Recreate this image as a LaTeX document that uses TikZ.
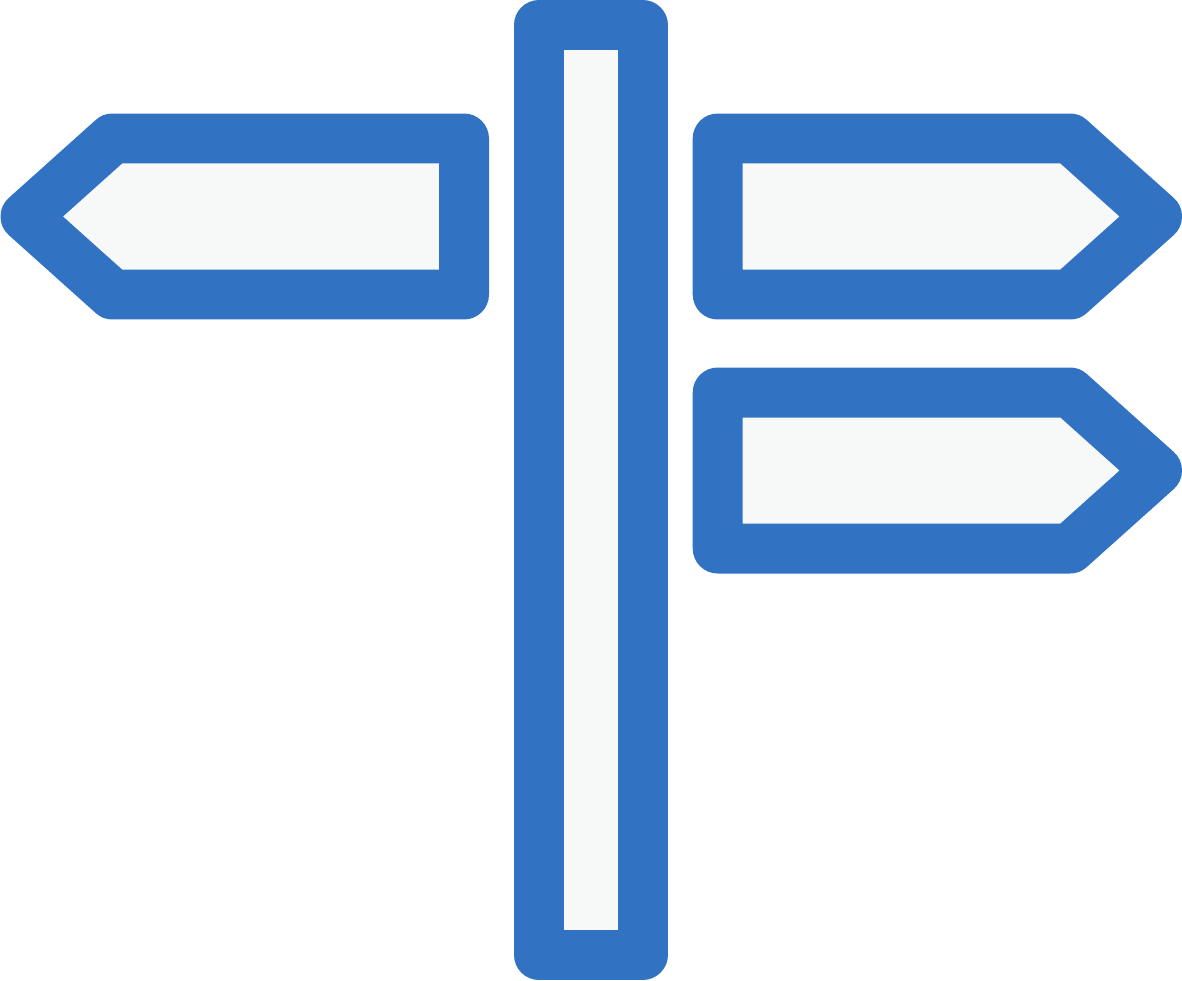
\documentclass[tikz,border=0pt]{standalone}
\usepackage{tikz}
\definecolor{signblue}{HTML}{3272C3}
\definecolor{signfill}{HTML}{F7F9F8}
\tikzset{signpart/.style={draw=signblue, fill=signfill, line width=1cm, line join=round}}
\begin{document}
\begin{tikzpicture}[x=0.02cm,y=-0.02cm]
\useasboundingbox (0,0) rectangle (1182,980);
% post
\draw[signpart] (539,25) -- (642.5,25) -- (642.5,955) -- (539,955) -- cycle;
% left sign
\draw[signpart] (464,138.5) -- (464,294.5) -- (112.5,294.5) -- (25.5,216.5) -- (112.5,138.5) -- cycle;
% right signs
\draw[signpart] (717.7,138.5) -- (1070,138.5) -- (1157,216.5) -- (1070,294.5) -- (717.7,294.5) -- cycle;
\draw[signpart] (717.7,392.5) -- (1070,392.5) -- (1157,470.5) -- (1070,548.5) -- (717.7,548.5) -- cycle;
\end{tikzpicture}
\end{document}
